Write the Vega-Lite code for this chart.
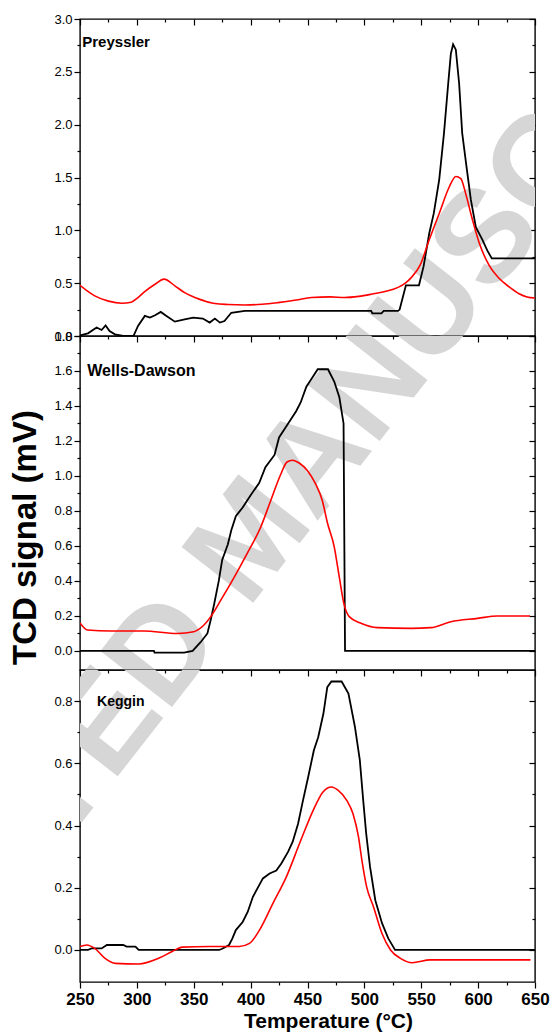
{
  "$schema": "https://vega.github.io/schema/vega-lite/v6.json",
  "padding": {"left": 8, "top": 12, "right": 5, "bottom": 5},
  "background": "white",
  "config": {
    "font": "Liberation Sans",
    "view": {"stroke": "#000", "strokeWidth": 1.4},
    "axis": {"domain": false, "grid": false, "tickColor": "#000", "tickWidth": 1.2, "labelColor": "#000", "labelOverlap": false, "labelFlush": false, "labelBound": false, "title": null}
  },
  "datasets": {
    "preyssler": [
      {"s": "1", "t": 250, "v": 0.006}, {"s": "1", "t": 257, "v": 0.025}, {"s": "1", "t": 264.6, "v": 0.08}, {"s": "1", "t": 269, "v": 0.057}, {"s": "1", "t": 272.5, "v": 0.1}, {"s": "1", "t": 276, "v": 0.047}, {"s": "1", "t": 280.7, "v": 0.016}, {"s": "1", "t": 288, "v": 0}, {"s": "1", "t": 297, "v": 0}, {"s": "1", "t": 301, "v": 0.095}, {"s": "1", "t": 307, "v": 0.19}, {"s": "1", "t": 311.5, "v": 0.174}, {"s": "1", "t": 316, "v": 0.196}, {"s": "1", "t": 321, "v": 0.228}, {"s": "1", "t": 326, "v": 0.19}, {"s": "1", "t": 333.4, "v": 0.136}, {"s": "1", "t": 342, "v": 0.158}, {"s": "1", "t": 349.5, "v": 0.174}, {"s": "1", "t": 358, "v": 0.165}, {"s": "1", "t": 364, "v": 0.127}, {"s": "1", "t": 368.6, "v": 0.165}, {"s": "1", "t": 373, "v": 0.127}, {"s": "1", "t": 377, "v": 0.142}, {"s": "1", "t": 383, "v": 0.22}, {"s": "1", "t": 395, "v": 0.237}, {"s": "1", "t": 506, "v": 0.237}, {"s": "1", "t": 507, "v": 0.215}, {"s": "1", "t": 515, "v": 0.215}, {"s": "1", "t": 517, "v": 0.237}, {"s": "1", "t": 529.6, "v": 0.237}, {"s": "1", "t": 531, "v": 0.25}, {"s": "1", "t": 536.5, "v": 0.48}, {"s": "1", "t": 548, "v": 0.48}, {"s": "1", "t": 552, "v": 0.656}, {"s": "1", "t": 557, "v": 0.97}, {"s": "1", "t": 561, "v": 1.16}, {"s": "1", "t": 565.8, "v": 1.48}, {"s": "1", "t": 570, "v": 1.92}, {"s": "1", "t": 573.7, "v": 2.39}, {"s": "1", "t": 576, "v": 2.67}, {"s": "1", "t": 578, "v": 2.76}, {"s": "1", "t": 580.4, "v": 2.71}, {"s": "1", "t": 583.3, "v": 2.39}, {"s": "1", "t": 586, "v": 1.92}, {"s": "1", "t": 589.8, "v": 1.6}, {"s": "1", "t": 593.6, "v": 1.29}, {"s": "1", "t": 598, "v": 1.03}, {"s": "1", "t": 603.8, "v": 0.91}, {"s": "1", "t": 608, "v": 0.81}, {"s": "1", "t": 612, "v": 0.735}, {"s": "1", "t": 650, "v": 0.735},
      {"s": "2", "t": 250, "v": 0.48}, {"s": "2", "t": 256, "v": 0.43}, {"s": "2", "t": 263, "v": 0.38}, {"s": "2", "t": 275, "v": 0.33}, {"s": "2", "t": 286.6, "v": 0.31}, {"s": "2", "t": 295, "v": 0.32}, {"s": "2", "t": 301, "v": 0.364}, {"s": "2", "t": 308, "v": 0.43}, {"s": "2", "t": 316, "v": 0.49}, {"s": "2", "t": 324, "v": 0.538}, {"s": "2", "t": 333.4, "v": 0.475}, {"s": "2", "t": 342, "v": 0.41}, {"s": "2", "t": 351, "v": 0.364}, {"s": "2", "t": 360, "v": 0.33}, {"s": "2", "t": 368.6, "v": 0.307}, {"s": "2", "t": 380, "v": 0.298}, {"s": "2", "t": 395, "v": 0.294}, {"s": "2", "t": 410, "v": 0.3}, {"s": "2", "t": 424, "v": 0.316}, {"s": "2", "t": 440, "v": 0.34}, {"s": "2", "t": 453.5, "v": 0.364}, {"s": "2", "t": 470, "v": 0.37}, {"s": "2", "t": 482.7, "v": 0.364}, {"s": "2", "t": 495, "v": 0.375}, {"s": "2", "t": 506, "v": 0.395}, {"s": "2", "t": 513, "v": 0.41}, {"s": "2", "t": 520, "v": 0.425}, {"s": "2", "t": 529.6, "v": 0.46}, {"s": "2", "t": 536, "v": 0.5}, {"s": "2", "t": 541, "v": 0.55}, {"s": "2", "t": 549, "v": 0.67}, {"s": "2", "t": 557, "v": 0.91}, {"s": "2", "t": 565.8, "v": 1.16}, {"s": "2", "t": 574.6, "v": 1.41}, {"s": "2", "t": 580.4, "v": 1.51}, {"s": "2", "t": 584.8, "v": 1.49}, {"s": "2", "t": 589, "v": 1.35}, {"s": "2", "t": 595, "v": 1.1}, {"s": "2", "t": 601, "v": 0.88}, {"s": "2", "t": 609.6, "v": 0.67}, {"s": "2", "t": 618.4, "v": 0.546}, {"s": "2", "t": 627, "v": 0.467}, {"s": "2", "t": 636, "v": 0.4}, {"s": "2", "t": 643, "v": 0.37}, {"s": "2", "t": 650, "v": 0.36}
    ],
    "wells": [
      {"s": "1", "t": 250, "v": 0}, {"s": "1", "t": 315, "v": 0}, {"s": "1", "t": 315.5, "v": -0.01}, {"s": "1", "t": 341.5, "v": -0.01}, {"s": "1", "t": 349, "v": 0}, {"s": "1", "t": 356, "v": 0.05}, {"s": "1", "t": 362, "v": 0.1}, {"s": "1", "t": 365, "v": 0.18}, {"s": "1", "t": 368, "v": 0.27}, {"s": "1", "t": 372, "v": 0.4}, {"s": "1", "t": 375, "v": 0.52}, {"s": "1", "t": 380, "v": 0.61}, {"s": "1", "t": 383, "v": 0.69}, {"s": "1", "t": 387, "v": 0.77}, {"s": "1", "t": 393, "v": 0.82}, {"s": "1", "t": 400, "v": 0.89}, {"s": "1", "t": 407.5, "v": 0.96}, {"s": "1", "t": 413, "v": 1.05}, {"s": "1", "t": 421, "v": 1.12}, {"s": "1", "t": 425, "v": 1.22}, {"s": "1", "t": 433, "v": 1.3}, {"s": "1", "t": 440, "v": 1.37}, {"s": "1", "t": 444, "v": 1.42}, {"s": "1", "t": 449, "v": 1.51}, {"s": "1", "t": 453, "v": 1.55}, {"s": "1", "t": 459, "v": 1.61}, {"s": "1", "t": 468, "v": 1.61}, {"s": "1", "t": 473.5, "v": 1.54}, {"s": "1", "t": 478, "v": 1.45}, {"s": "1", "t": 481.7, "v": 1.3}, {"s": "1", "t": 483, "v": 0}, {"s": "1", "t": 650, "v": 0},
      {"s": "2", "t": 250, "v": 0.16}, {"s": "2", "t": 256.5, "v": 0.12}, {"s": "2", "t": 277, "v": 0.114}, {"s": "2", "t": 306, "v": 0.114}, {"s": "2", "t": 335.6, "v": 0.1}, {"s": "2", "t": 350, "v": 0.11}, {"s": "2", "t": 359, "v": 0.148}, {"s": "2", "t": 365, "v": 0.196}, {"s": "2", "t": 373.8, "v": 0.29}, {"s": "2", "t": 385.5, "v": 0.42}, {"s": "2", "t": 397, "v": 0.557}, {"s": "2", "t": 409, "v": 0.71}, {"s": "2", "t": 417.7, "v": 0.86}, {"s": "2", "t": 426.5, "v": 1.01}, {"s": "2", "t": 432, "v": 1.08}, {"s": "2", "t": 436.8, "v": 1.09}, {"s": "2", "t": 442.7, "v": 1.074}, {"s": "2", "t": 450, "v": 1.03}, {"s": "2", "t": 457, "v": 0.956}, {"s": "2", "t": 463, "v": 0.86}, {"s": "2", "t": 467.6, "v": 0.73}, {"s": "2", "t": 473.5, "v": 0.595}, {"s": "2", "t": 478, "v": 0.42}, {"s": "2", "t": 482, "v": 0.27}, {"s": "2", "t": 486.7, "v": 0.196}, {"s": "2", "t": 497, "v": 0.158}, {"s": "2", "t": 511.6, "v": 0.133}, {"s": "2", "t": 541, "v": 0.129}, {"s": "2", "t": 558.5, "v": 0.133}, {"s": "2", "t": 576, "v": 0.167}, {"s": "2", "t": 599.6, "v": 0.186}, {"s": "2", "t": 617, "v": 0.2}, {"s": "2", "t": 645.6, "v": 0.2}
    ],
    "keggin": [
      {"s": "1", "t": 250, "v": 0}, {"s": "1", "t": 257, "v": 0}, {"s": "1", "t": 260, "v": 0.005}, {"s": "1", "t": 269, "v": 0.005}, {"s": "1", "t": 273.6, "v": 0.016}, {"s": "1", "t": 288, "v": 0.016}, {"s": "1", "t": 291, "v": 0.011}, {"s": "1", "t": 298.7, "v": 0.011}, {"s": "1", "t": 301.6, "v": 0}, {"s": "1", "t": 372.4, "v": 0}, {"s": "1", "t": 375, "v": 0.004}, {"s": "1", "t": 381, "v": 0.016}, {"s": "1", "t": 384, "v": 0.037}, {"s": "1", "t": 387, "v": 0.064}, {"s": "1", "t": 393, "v": 0.09}, {"s": "1", "t": 397.5, "v": 0.123}, {"s": "1", "t": 402, "v": 0.171}, {"s": "1", "t": 406, "v": 0.198}, {"s": "1", "t": 410.8, "v": 0.23}, {"s": "1", "t": 416.7, "v": 0.246}, {"s": "1", "t": 422.6, "v": 0.255}, {"s": "1", "t": 427, "v": 0.278}, {"s": "1", "t": 433, "v": 0.316}, {"s": "1", "t": 437, "v": 0.348}, {"s": "1", "t": 441.7, "v": 0.406}, {"s": "1", "t": 446, "v": 0.48}, {"s": "1", "t": 450.6, "v": 0.556}, {"s": "1", "t": 455.6, "v": 0.642}, {"s": "1", "t": 459.4, "v": 0.684}, {"s": "1", "t": 464, "v": 0.76}, {"s": "1", "t": 467.4, "v": 0.845}, {"s": "1", "t": 471, "v": 0.863}, {"s": "1", "t": 480, "v": 0.863}, {"s": "1", "t": 486, "v": 0.824}, {"s": "1", "t": 491.7, "v": 0.717}, {"s": "1", "t": 496, "v": 0.61}, {"s": "1", "t": 499, "v": 0.48}, {"s": "1", "t": 501.6, "v": 0.374}, {"s": "1", "t": 505, "v": 0.267}, {"s": "1", "t": 509.6, "v": 0.16}, {"s": "1", "t": 515.5, "v": 0.086}, {"s": "1", "t": 521, "v": 0.037}, {"s": "1", "t": 527, "v": 0}, {"s": "1", "t": 650, "v": 0},
      {"s": "2", "t": 250, "v": 0.011}, {"s": "2", "t": 256, "v": 0.016}, {"s": "2", "t": 263, "v": 0.005}, {"s": "2", "t": 272, "v": -0.027}, {"s": "2", "t": 281, "v": -0.043}, {"s": "2", "t": 301.6, "v": -0.045}, {"s": "2", "t": 319, "v": -0.027}, {"s": "2", "t": 331, "v": -0.005}, {"s": "2", "t": 340, "v": 0.009}, {"s": "2", "t": 363.6, "v": 0.011}, {"s": "2", "t": 390, "v": 0.011}, {"s": "2", "t": 399, "v": 0.021}, {"s": "2", "t": 407.8, "v": 0.064}, {"s": "2", "t": 419.6, "v": 0.15}, {"s": "2", "t": 431.4, "v": 0.235}, {"s": "2", "t": 443, "v": 0.342}, {"s": "2", "t": 455, "v": 0.449}, {"s": "2", "t": 463.6, "v": 0.508}, {"s": "2", "t": 471, "v": 0.524}, {"s": "2", "t": 477, "v": 0.513}, {"s": "2", "t": 484.5, "v": 0.481}, {"s": "2", "t": 490, "v": 0.438}, {"s": "2", "t": 494.8, "v": 0.364}, {"s": "2", "t": 497.8, "v": 0.289}, {"s": "2", "t": 502, "v": 0.203}, {"s": "2", "t": 508, "v": 0.139}, {"s": "2", "t": 515.5, "v": 0.053}, {"s": "2", "t": 523, "v": 0}, {"s": "2", "t": 531.7, "v": -0.027}, {"s": "2", "t": 542, "v": -0.041}, {"s": "2", "t": 558, "v": -0.032}, {"s": "2", "t": 646, "v": -0.032}
    ]
  },
  "spacing": 0,
  "bounds": "flush",
  "vconcat": [
    {
      "width": 455, "height": 317,
      "data": {"name": "preyssler"},
      "layer": [
        {
          "data": {"values": [{"w": "ACCEPTED MANUSCRIPT"}]},
          "mark": {"type": "text", "fontSize": 132, "fontWeight": "bold", "angle": -52, "color": "#d6d6d6", "align": "center", "baseline": "middle", "clip": true},
          "encoding": {
            "x": {"datum": 401.5, "type": "quantitative", "scale": {"domain": [250, 650], "nice": false, "zero": false}, "axis": null},
            "y": {"datum": -1.921, "type": "quantitative", "scale": {"domain": [0, 3], "nice": false, "zero": false}, "axis": null},
            "text": {"field": "w"}
          }
        },
        {
          "transform": [{"filter": "datum.s == '1'"}],
          "mark": {"type": "line", "color": "#000000", "strokeWidth": 1.8, "clip": true},
          "encoding": {
            "x": {"field": "t", "type": "quantitative", "scale": {"domain": [250, 650], "nice": false, "zero": false}, "axis": null},
            "y": {"field": "v", "type": "quantitative", "scale": {"domain": [0, 3], "nice": false, "zero": false},
              "axis": {"orient": "left", "values": [0, 0.5, 1, 1.5, 2, 2.5, 3], "format": ".1f", "labelFontSize": 13, "labelPadding": 2, "tickSize": 6}}
          }
        },
        {
          "transform": [{"filter": "datum.s == '2'"}],
          "mark": {"type": "line", "color": "#ff0000", "strokeWidth": 1.6, "clip": true, "interpolate": "monotone"},
          "encoding": {
            "x": {"field": "t", "type": "quantitative", "scale": {"domain": [250, 650], "nice": false, "zero": false}, "axis": null},
            "y": {"field": "v", "type": "quantitative", "scale": {"domain": [0, 3], "nice": false, "zero": false},
              "axis": {"orient": "left", "values": [0.25, 0.75, 1.25, 1.75, 2.25, 2.75], "labels": false, "tickSize": 3}}
          }
        },
        {
          "data": {"values": [{"label": "Preyssler"}]},
          "mark": {"type": "text", "align": "left", "baseline": "middle", "fontWeight": "bold", "fontSize": 15, "color": "#000"},
          "encoding": {
            "x": {"datum": 252, "type": "quantitative", "scale": {"domain": [250, 650], "nice": false, "zero": false},
              "axis": {"orient": "top", "labels": false, "values": [250, 300, 350, 400, 450, 500, 550, 600, 650], "tickSize": 6, "offset": -6}},
            "y": {"datum": 2.78, "type": "quantitative", "scale": {"domain": [0, 3], "nice": false, "zero": false},
              "axis": {"orient": "right", "labels": false, "values": [0, 0.5, 1, 1.5, 2, 2.5, 3], "tickSize": 6, "offset": -6}},
            "text": {"field": "label"}
          }
        },
        {
          "data": {"values": [{"label": ""}]},
          "mark": {"type": "text"},
          "encoding": {
            "x": {"datum": 252, "type": "quantitative", "scale": {"domain": [250, 650], "nice": false, "zero": false},
              "axis": {"orient": "top", "labels": false, "values": [275, 325, 375, 425, 475, 525, 575, 625], "tickSize": 3, "offset": -3}},
            "y": {"datum": 2.78, "type": "quantitative", "scale": {"domain": [0, 3], "nice": false, "zero": false},
              "axis": {"orient": "right", "labels": false, "values": [0.25, 0.75, 1.25, 1.75, 2.25, 2.75], "tickSize": 3, "offset": -3}},
            "text": {"field": "label"}
          }
        }
      ],
      "resolve": {"axis": {"x": "independent", "y": "independent"}}
    },
    {
      "width": 455, "height": 334,
      "data": {"name": "wells"},
      "layer": [
        {
          "data": {"values": [{"w": "ACCEPTED MANUSCRIPT"}]},
          "mark": {"type": "text", "fontSize": 132, "fontWeight": "bold", "angle": -52, "color": "#d6d6d6", "align": "center", "baseline": "middle", "clip": true},
          "encoding": {
            "x": {"datum": 401.5, "type": "quantitative", "scale": {"domain": [250, 650], "nice": false, "zero": false}, "axis": null},
            "y": {"datum": 0.64, "type": "quantitative", "scale": {"domain": [-0.109, 1.8], "nice": false, "zero": false}, "axis": null},
            "text": {"field": "w"}
          }
        },
        {
          "transform": [{"filter": "datum.s == '1'"}],
          "mark": {"type": "line", "color": "#000000", "strokeWidth": 1.8, "clip": true},
          "encoding": {
            "x": {"field": "t", "type": "quantitative", "scale": {"domain": [250, 650], "nice": false, "zero": false}, "axis": null},
            "y": {"field": "v", "type": "quantitative", "scale": {"domain": [-0.109, 1.8], "nice": false, "zero": false},
              "axis": {"orient": "left", "title": "TCD signal (mV)", "titleFontSize": 33, "titleFontWeight": "bold", "titleColor": "#000",
                "titleX": -45, "titleY": 201, "titleBaseline": "alphabetic", "titleAlign": "center", "titleAngle": -90,
                "values": [0, 0.2, 0.4, 0.6, 0.8, 1, 1.2, 1.4, 1.6, 1.8], "format": ".1f", "labelFontSize": 13, "labelPadding": 2, "tickSize": 6}}
          }
        },
        {
          "transform": [{"filter": "datum.s == '2'"}],
          "mark": {"type": "line", "color": "#ff0000", "strokeWidth": 1.6, "clip": true, "interpolate": "monotone"},
          "encoding": {
            "x": {"field": "t", "type": "quantitative", "scale": {"domain": [250, 650], "nice": false, "zero": false}, "axis": null},
            "y": {"field": "v", "type": "quantitative", "scale": {"domain": [-0.109, 1.8], "nice": false, "zero": false},
              "axis": {"orient": "left", "values": [0.1, 0.3, 0.5, 0.7, 0.9, 1.1, 1.3, 1.5, 1.7], "labels": false, "tickSize": 3}}
          }
        },
        {
          "data": {"values": [{"label": "Wells-Dawson"}]},
          "mark": {"type": "text", "align": "left", "baseline": "middle", "fontWeight": "bold", "fontSize": 16, "color": "#000"},
          "encoding": {
            "x": {"datum": 256.4, "type": "quantitative", "scale": {"domain": [250, 650], "nice": false, "zero": false},
              "axis": {"orient": "top", "labels": false, "values": [250, 300, 350, 400, 450, 500, 550, 600, 650], "tickSize": 6, "offset": -6}},
            "y": {"datum": 1.6, "type": "quantitative", "scale": {"domain": [-0.109, 1.8], "nice": false, "zero": false},
              "axis": {"orient": "right", "labels": false, "values": [0, 0.2, 0.4, 0.6, 0.8, 1, 1.2, 1.4, 1.6, 1.8], "tickSize": 6, "offset": -6}},
            "text": {"field": "label"}
          }
        },
        {
          "data": {"values": [{"label": ""}]},
          "mark": {"type": "text"},
          "encoding": {
            "x": {"datum": 256.4, "type": "quantitative", "scale": {"domain": [250, 650], "nice": false, "zero": false},
              "axis": {"orient": "top", "labels": false, "values": [275, 325, 375, 425, 475, 525, 575, 625], "tickSize": 3, "offset": -3}},
            "y": {"datum": 1.6, "type": "quantitative", "scale": {"domain": [-0.109, 1.8], "nice": false, "zero": false},
              "axis": {"orient": "right", "labels": false, "values": [0.1, 0.3, 0.5, 0.7, 0.9, 1.1, 1.3, 1.5, 1.7], "tickSize": 3, "offset": -3}},
            "text": {"field": "label"}
          }
        }
      ],
      "resolve": {"axis": {"x": "independent", "y": "independent"}}
    },
    {
      "width": 455, "height": 312,
      "data": {"name": "keggin"},
      "layer": [
        {
          "data": {"values": [{"w": "ACCEPTED MANUSCRIPT"}]},
          "mark": {"type": "text", "fontSize": 132, "fontWeight": "bold", "angle": -52, "color": "#d6d6d6", "align": "center", "baseline": "middle", "clip": true},
          "encoding": {
            "x": {"datum": 401.5, "type": "quantitative", "scale": {"domain": [250, 650], "nice": false, "zero": false}, "axis": null},
            "y": {"datum": 1.321, "type": "quantitative", "scale": {"domain": [-0.103, 0.9], "nice": false, "zero": false}, "axis": null},
            "text": {"field": "w"}
          }
        },
        {
          "transform": [{"filter": "datum.s == '1'"}],
          "mark": {"type": "line", "color": "#000000", "strokeWidth": 1.8, "clip": true},
          "encoding": {
            "x": {"field": "t", "type": "quantitative", "scale": {"domain": [250, 650], "nice": false, "zero": false},
              "axis": {"orient": "bottom", "title": "Temperature (°C)", "titleFontSize": 21, "titleFontWeight": "bold", "titleColor": "#000",
                "titleX": 248, "titleY": 45, "titleBaseline": "alphabetic", "titleAlign": "center",
                "values": [250, 300, 350, 400, 450, 500, 550, 600, 650], "labelFontSize": 17, "labelFontWeight": "bold", "labelPadding": 3, "tickSize": 6}},
            "y": {"field": "v", "type": "quantitative", "scale": {"domain": [-0.103, 0.9], "nice": false, "zero": false},
              "axis": {"orient": "left", "values": [0, 0.2, 0.4, 0.6, 0.8], "format": ".1f", "labelFontSize": 13, "labelPadding": 2, "tickSize": 6}}
          }
        },
        {
          "transform": [{"filter": "datum.s == '2'"}],
          "mark": {"type": "line", "color": "#ff0000", "strokeWidth": 1.6, "clip": true, "interpolate": "monotone"},
          "encoding": {
            "x": {"field": "t", "type": "quantitative", "scale": {"domain": [250, 650], "nice": false, "zero": false},
              "axis": {"orient": "bottom", "labels": false, "values": [275, 325, 375, 425, 475, 525, 575, 625], "tickSize": 3}},
            "y": {"field": "v", "type": "quantitative", "scale": {"domain": [-0.103, 0.9], "nice": false, "zero": false},
              "axis": {"orient": "left", "values": [0.1, 0.3, 0.5, 0.7], "labels": false, "tickSize": 3}}
          }
        },
        {
          "data": {"values": [{"label": "Keggin"}]},
          "mark": {"type": "text", "align": "left", "baseline": "middle", "fontWeight": "bold", "fontSize": 14, "color": "#000"},
          "encoding": {
            "x": {"datum": 265, "type": "quantitative", "scale": {"domain": [250, 650], "nice": false, "zero": false},
              "axis": {"orient": "top", "labels": false, "values": [250, 300, 350, 400, 450, 500, 550, 600, 650], "tickSize": 6, "offset": -6}},
            "y": {"datum": 0.797, "type": "quantitative", "scale": {"domain": [-0.103, 0.9], "nice": false, "zero": false},
              "axis": {"orient": "right", "labels": false, "values": [0, 0.2, 0.4, 0.6, 0.8], "tickSize": 6, "offset": -6}},
            "text": {"field": "label"}
          }
        },
        {
          "data": {"values": [{"label": ""}]},
          "mark": {"type": "text"},
          "encoding": {
            "x": {"datum": 265, "type": "quantitative", "scale": {"domain": [250, 650], "nice": false, "zero": false},
              "axis": {"orient": "top", "labels": false, "values": [275, 325, 375, 425, 475, 525, 575, 625], "tickSize": 3, "offset": -3}},
            "y": {"datum": 0.797, "type": "quantitative", "scale": {"domain": [-0.103, 0.9], "nice": false, "zero": false},
              "axis": {"orient": "right", "labels": false, "values": [0.1, 0.3, 0.5, 0.7], "tickSize": 3, "offset": -3}},
            "text": {"field": "label"}
          }
        }
      ],
      "resolve": {"axis": {"x": "independent", "y": "independent"}}
    }
  ]
}
